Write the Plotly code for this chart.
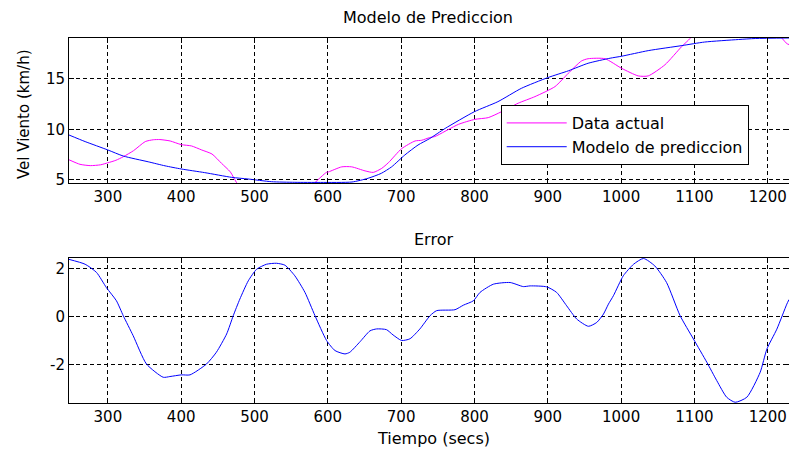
import plotly.graph_objects as go

# ---- Data ----
t_actual = [247, 262, 276, 290, 300, 311, 321, 335, 351, 362, 371, 385, 400, 414, 428, 442,
            455, 467, 476, 480, 491.5, 502.8, 516, 530, 541.5, 555, 569, 582.5, 598, 601,
            619, 632.6, 650.8, 662, 673.5, 682.5, 700.7, 719, 728, 739, 746, 778, 800.6,
            818.8, 837, 859.7, 882.5, 909.8, 928, 946, 955, 978, 1000.7, 1023.4, 1037,
            1059.8, 1082.6, 1094, 1098.7, 1117, 1130.5, 1144, 1155.6, 1171.5, 1189.7,
            1198.8, 1212.4, 1226, 1229]
actual = [7.0, 6.55, 6.42, 6.5, 6.7, 6.95, 7.3, 7.9, 8.8, 8.98, 9.0, 8.86, 8.5, 8.37, 7.97, 7.57,
          6.65, 5.8, 4.7, 4.48, 3.6, 3.0, 2.7, 2.6, 2.67, 3.08, 3.77, 4.74, 5.75, 5.8,
          6.3, 6.3, 5.9, 5.75, 6.15, 6.7, 8.1, 8.86, 8.93, 9.2, 9.3, 10.5, 11.0,
          11.17, 11.76, 12.6, 13.25, 14.24, 15.56, 16.78, 17.0, 17.0, 16.05, 15.3, 15.3,
          16.4, 18.2, 19.0, 19.5, 20.6, 21.45, 22.2, 22.5, 22.3, 21.3,
          20.4, 19.6, 18.5, 18.4]

t_model = [247, 269, 300, 321, 355, 378, 400, 432, 469, 491, 523, 555, 590, 633, 655, 673,
           687, 705, 723, 739, 760, 800, 832, 864, 900, 928, 955, 985, 1001, 1037, 1083,
           1114, 1160, 1183, 1229]
model = [9.45, 8.8, 7.97, 7.37, 6.8, 6.4, 6.09, 5.73, 5.26, 5.1, 4.83, 4.77, 4.76, 4.8, 5.17, 5.66,
         6.3, 7.47, 8.46, 9.1, 10.1, 11.76, 12.75, 14.07, 15.13, 15.8, 16.55, 17.05, 17.25, 17.8, 18.3,
         18.65, 18.9, 19.0, 19.05]

t_error = [246, 269, 284.5, 298, 311.7, 321, 334.5, 352.7, 375.5, 384.6, 400.4, 412, 434.5, 448,
           462, 471, 480, 491.5, 502.8, 516.4, 530, 541.5, 555, 568.8, 582.5, 598.3, 609.8,
           623.4, 630, 644, 657.5, 666.5, 680, 689, 700.6, 712, 725.6, 739.4, 748.4, 773.5,
           785, 798.5, 807.6, 825.8, 848.6, 866.7, 876, 898.5, 912, 925.8, 939.5, 955.4,
           966.8, 976, 982.7, 989.5, 1003, 1017, 1030.5, 1046, 1062, 1080.5, 1098.7, 1117,
           1130.5, 1144, 1155.6, 1171.5, 1189.7, 1198.8, 1212.4, 1226, 1229]
error = [2.38, 2.17, 1.83, 1.2, 0.65, 0.03, -0.8, -1.98, -2.53, -2.5, -2.43, -2.43, -1.98, -1.49,
         -0.73, 0.03, 0.72, 1.48, 1.96, 2.17, 2.21, 2.13, 1.69, 1.0, 0.03, -1.0, -1.42,
         -1.56, -1.49, -1.05, -0.6, -0.52, -0.55, -0.77, -1.0, -0.93, -0.52, 0.03, 0.24, 0.28,
         0.47, 0.65, 1.0, 1.34, 1.41, 1.24, 1.27, 1.23, 1.0, 0.44, -0.11, -0.41,
         -0.25, 0.1, 0.51, 0.86, 1.69, 2.17, 2.41, 2.1, 1.41, 0.03, -0.94, -1.91,
         -2.67, -3.36, -3.57, -3.36, -2.32, -1.36, -0.53, 0.51, 0.7]

x_ticks = [300, 400, 500, 600, 700, 800, 900, 1000, 1100, 1200]
y_ticks_top = [5, 10, 15]
y_ticks_bottom = [-2, 0, 2]
y_ticktext_bottom = ["-2", "0", "2"]

FONT = "DejaVu Sans"

fig = go.Figure()
fig.add_trace(go.Scatter(x=t_actual, y=actual, mode="lines", name="Data actual",
                         line=dict(color="#FF00FF", width=1, shape="spline", smoothing=0.6),
                         xaxis="x", yaxis="y"))
fig.add_trace(go.Scatter(x=t_model, y=model, mode="lines", name="Modelo de prediccion",
                         line=dict(color="#0000FF", width=1, shape="spline", smoothing=0.6),
                         xaxis="x", yaxis="y"))
fig.add_trace(go.Scatter(x=t_error, y=error, mode="lines", showlegend=False,
                         line=dict(color="#0000FF", width=1, shape="spline", smoothing=0.6),
                         xaxis="x2", yaxis="y2"))

axis_common = dict(showline=True, linecolor="black", linewidth=1, mirror="ticks",
                   ticks="inside", ticklen=5, tickcolor="black",
                   showgrid=True, gridcolor="black", gridwidth=1, griddash="4px,3px",
                   zeroline=False, tickfont=dict(family=FONT, size=15, color="black"))

fig.update_layout(
    width=789, height=449,
    margin=dict(l=69, r=0, t=38, b=46),
    paper_bgcolor="white", plot_bgcolor="white",
    xaxis=dict(domain=[0, 1], range=[247, 1229], tickvals=x_ticks, anchor="y", **axis_common),
    yaxis=dict(domain=[0.6027, 1], range=[4.7, 19.05], tickvals=y_ticks_top, anchor="x", **axis_common),
    xaxis2=dict(domain=[0, 1], range=[247, 1229], tickvals=x_ticks, anchor="y2", **axis_common),
    yaxis2=dict(domain=[0, 0.3973], range=[-3.6, 2.43], tickvals=y_ticks_bottom,
                ticktext=y_ticktext_bottom, anchor="x2", **axis_common),
    legend=dict(x=0.5996, y=0.8164, xanchor="left", yanchor="top",
                bordercolor="black", borderwidth=1, bgcolor="white", itemwidth=60,
                tracegroupgap=0, font=dict(family=FONT, size=16, color="black")),
    showlegend=True,
    annotations=[
        dict(text="Modelo de Prediccion", x=0.4986, y=1.0548, xref="paper", yref="paper",
             showarrow=False, xanchor="center", yanchor="middle",
             font=dict(family=FONT, size=16, color="black")),
        dict(text="Error", x=0.5056, y=0.4466, xref="paper", yref="paper",
             showarrow=False, xanchor="center", yanchor="middle",
             font=dict(family=FONT, size=16, color="black")),
        dict(text="Tiempo (secs)", x=0.5056, y=-0.0959, xref="paper", yref="paper",
             showarrow=False, xanchor="center", yanchor="middle",
             font=dict(family=FONT, size=16, color="black")),
        dict(text="Vel Viento (km/h)", x=-0.0625, y=0.7918, xref="paper", yref="paper",
             showarrow=False, xanchor="center", yanchor="middle", textangle=-90,
             font=dict(family=FONT, size=15, color="black")),
    ],
)

fig.write_html("out.html", config={"displayModeBar": False},
               post_script="document.body.style.margin='0px';")
